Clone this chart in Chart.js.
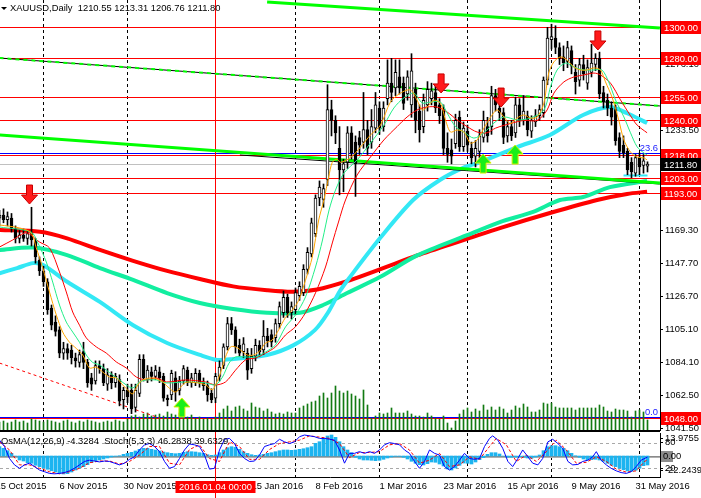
<!DOCTYPE html>
<html>
<head>
<meta charset="utf-8">
<title>XAUUSD,Daily</title>
<script src="https://cdn.jsdelivr.net/npm/chart.js@4.4.1/dist/chart.umd.min.js"></script>
<style>
    html, body { margin: 0; padding: 0; background: #fff; overflow: hidden; }
    #wrap { position: relative; width: 701px; height: 498px; }
    #mainChart { position: absolute; left: 0; top: 0; }
    #subChart { position: absolute; left: 0; top: 431px; }
</style>
</head>
<body>
<div id="wrap">
    <canvas id="mainChart" width="701" height="431"></canvas>
    <canvas id="subChart" width="701" height="67"></canvas>
</div>
<script>
// ---- daily candles, bar 0 = 19 Oct 2015 ... bar 162 = 2 Jun 2016 ----
const opens = [1177,1179,1176,1177,1170,1164,1166,1164,1167,1162,1150,1143,1136,1119,1110,1105,1090,1093,1092,1087,
    1084,1091,1084,1074,1072,1082,1080,1070,1076,1071,1073,1060,1066,1066,1055,1064,1086,1073,1078,1075,
    1078,1075,1061,1063,1074,1066,1072,1079,1071,1071,1077,1071,1069,1064,1061,1075,1082,1094,1109,1105,
    1095,1091,1090,1080,1088,1095,1092,1101,1102,1100,1109,1116,1126,1116,1118,1127,1129,1144,1154,1167,
    1190,1189,1202,1247,1240,1222,1208,1213,1232,1226,1229,1226,1234,1226,1235,1248,1236,1254,1264,1261,
    1268,1264,1257,1250,1260,1246,1236,1250,1254,1258,1250,1247,1222,1221,1225,1242,1223,1233,1222,1217,
    1220,1229,1236,1236,1256,1248,1245,1230,1236,1232,1250,1240,1243,1233,1239,1243,1245,1266,1292,1293,
    1287,1281,1278,1285,1271,1266,1276,1264,1271,1276,1280,1258,1253,1248,1247,1229,1224,1220,1213,1206,
    1216,1211,1210.55];
const highs = [1182,1183,1181,1180,1172,1169,1170,1169,1184,1164,1152,1146,1138,1121,1114,1107,1097,1096,1095,1090,
    1092,1097,1086,1077,1085,1085,1083,1080,1078,1077,1076,1068,1070,1070,1070,1089,1089,1082,1081,1082,
    1081,1077,1063,1079,1078,1075,1082,1081,1077,1080,1079,1074,1072,1067,1077,1085,1096,1113,1113,1107,
    1099,1100,1093,1093,1099,1098,1111,1106,1105,1112,1123,1130,1128,1123,1132,1136,1147,1158,1177,1192,
    1201,1199,1263,1253,1243,1236,1215,1236,1236,1230,1233,1258,1240,1247,1258,1252,1252,1279,1280,1279,
    1279,1268,1272,1283,1264,1250,1257,1265,1264,1263,1254,1250,1232,1228,1244,1246,1239,1237,1226,1227,
    1234,1246,1242,1262,1260,1251,1248,1240,1240,1255,1254,1256,1246,1243,1247,1250,1268,1300,1302,1301,
    1290,1288,1291,1288,1276,1280,1282,1279,1289,1283,1284,1262,1257,1252,1250,1232,1230,1222,1216,1218,
    1219,1218,1213.31];
const lows = [1172,1174,1172,1168,1161,1161,1162,1160,1159,1148,1140,1133,1115,1105,1101,1087,1086,1086,1083,1081,
    1081,1080,1068,1066,1070,1077,1069,1066,1067,1068,1056,1054,1058,1051,1052,1062,1072,1071,1072,1073,
    1071,1059,1056,1060,1059,1063,1070,1069,1068,1069,1068,1066,1059,1058,1058,1072,1080,1092,1102,1090,
    1088,1087,1073,1077,1085,1088,1089,1094,1094,1097,1106,1113,1113,1112,1115,1124,1127,1141,1152,1165,
    1185,1184,1198,1230,1225,1192,1194,1209,1215,1191,1218,1222,1218,1222,1232,1231,1233,1250,1252,1256,
    1257,1247,1253,1242,1232,1226,1232,1246,1250,1245,1238,1218,1213,1212,1222,1220,1220,1220,1212,1210,
    1216,1226,1226,1231,1246,1240,1225,1226,1227,1229,1236,1237,1230,1229,1236,1240,1242,1263,1286,1283,
    1276,1272,1274,1270,1257,1262,1266,1260,1268,1272,1254,1248,1243,1237,1224,1216,1216,1205,1203,1204,
    1205,1206,1206.76];
const closes = [1179,1176,1178,1170,1164,1166,1164,1167,1163,1152,1143,1136,1118,1108,1104,1090,1093,1090,1087,1085,
    1089,1084,1071,1070,1082,1080,1071,1076,1071,1075,1059,1066,1062,1054,1066,1086,1074,1079,1075,1079,
    1074,1061,1060,1077,1065,1072,1080,1071,1074,1077,1071,1069,1063,1060,1075,1081,1094,1109,1105,1094,
    1090,1096,1079,1088,1095,1091,1101,1098,1097,1109,1120,1126,1116,1120,1129,1133,1144,1155,1174,1190,
    1197,1196,1247,1240,1232,1208,1212,1232,1219,1212,1224,1234,1222,1236,1250,1235,1248,1264,1258,1271,
    1261,1251,1268,1272,1240,1234,1253,1260,1259,1248,1243,1222,1218,1217,1240,1223,1235,1224,1216,1222,
    1230,1240,1230,1256,1250,1245,1229,1236,1230,1250,1240,1246,1234,1240,1243,1247,1266,1293,1294,1287,
    1280,1277,1287,1275,1265,1276,1270,1274,1277,1280,1257,1252,1248,1242,1227,1220,1219,1208,1207,1216,
    1210,1214,1211.80];
// tick volume (hundreds) per bar
const volumes = [9,10,8,9,11,9,10,8,12,11,10,9,11,10,9,8,10,11,9,8,10,9,11,10,9,8,9,10,9,11,10,9,12,
    15,16,14,17,18,15,16,17,15,19,17,16,18,15,14,16,13,14,12,13,12,
    14,18,22,25,20,24,25,22,20,28,24,23,20,22,19,17,18,17,19,18,18,23,25,27,29,30,35,38,33,38,45,40,38,40,
    37,35,32,41,26,13,15,18,17,18,23,18,18,18,20,17,15,15,14,18,15,13,12,15,8,3,10,17,21,23,19,22,20,26,21,
    24,21,24,22,18,21,25,23,27,24,19,19,21,28,27,28,24,23,23,23,23,21,23,23,23,23,23,26,24,20,19,22,21,21,20,
    14,20,21,19,11];

// moving averages: [bar, price]
const ma200 = [[0,1169.4],[10.1,1168.2],[16.9,1164],[25.1,1156.5],[33.4,1149.5],[41.9,1143],[50.1,1137.8],[58.4,1133],
    [66.9,1130.5],[73.4,1129.5],[79.4,1131],[86.9,1136.4],[95.1,1144],[104.4,1153],[116.9,1163.6],[125.1,1170.6],
    [137.6,1180.3],[149.4,1188.7],[156.9,1192.6],[161.9,1194]];
const ma144 = [[0,1156.5],[8.4,1158],[16.9,1153.2],[25.1,1144.8],[33.4,1137.2],[41.9,1128.7],[50.1,1122.3],[58.4,1118.4],
    [66.9,1116],[75.1,1116],[80.9,1121],[86.9,1128.7],[95.1,1139],[104.4,1153],[116.9,1166],[125.1,1174.5],
    [133.4,1181],[140.1,1188.7],[145.9,1190.6],[152.6,1197],[161.9,1201]];
const ma50 = [[0,1141.5],[4.4,1144.8],[8.4,1148],[10.9,1146.8],[16.9,1136],[25.1,1123],[33.4,1108],[41.9,1096.5],
    [50.1,1088.8],[54.4,1085.6],[58.4,1086.2],[66.9,1088.8],[73.4,1095],[78.9,1105],[82.1,1116],[85.1,1130],
    [87.6,1139],[95.1,1164],[103.4,1188.7],[110.1,1201.6],[115.9,1209.4],[120.1,1213],[129.4,1222.8],[137.6,1230.6],
    [145.9,1243.5],[152.6,1248.6],[156.9,1244.6],[161.9,1238.3]];
const maFast = [[0,1172.6],[5,1170.7],[7.9,1167.5],[9.2,1157.8],[10.8,1145],[12.5,1129.4],[14.2,1114.6],[15.8,1103.6],
    [17.5,1097],[19.2,1093],[20.8,1088.8],[22.5,1080.4],[24.2,1081],[25.8,1077.8],[27.5,1074.6],[29.2,1074],
    [30.8,1069.5],[32.5,1065],[33.3,1063.7],[34.6,1069.5],[35.8,1072.7],[38.3,1074],[40.8,1071.4],[42.1,1068.2],
    [44,1065],[46.5,1071],[49,1071],[51.5,1069.5],[53.2,1066.3],[54,1069.5],[55.25,1077.3],[56.5,1087.5],
    [57.75,1094],[59,1094],[60.25,1092],[61.9,1088.8],[63.6,1088.8],[65.25,1092],[66.5,1096.5],[68.2,1098.5],
    [69.8,1105],[71.5,1113],[73.2,1117.8],[74.8,1124],[76.5,1137],[78.2,1152],[79.8,1175.8],[81.1,1188.7],
    [82.3,1203.5],[83.2,1213],[84.4,1215],[85.25,1213],[87.75,1216],[90.25,1222.8],[92.75,1230.6],[95.25,1237],
    [97.75,1251.9],[100.25,1257.6],[102.75,1259.6],[104.4,1253],[105.7,1246.7],[106.9,1248.6],[108.6,1253],
    [110.25,1251],[111.5,1240.3],[112.75,1232.5],[114.4,1233.8],[116.1,1232.5],[117.75,1225.4],[119.4,1227.4],
    [121.1,1235],[122.75,1242],[124.4,1246.7],[126.1,1242.2],[127.75,1238],[129.4,1241.5],[131.1,1243.5],
    [132.75,1241.5],[134.4,1242.2],[136.1,1251.2],[137.3,1270.5],[138.6,1277.7],[140.25,1280.9],[141.9,1278.9],
    [143.6,1274.4],[145.25,1272.5],[146.9,1272.5],[148.6,1273.8],[150.25,1272.5],[151.5,1264.8],[153.2,1254.5],
    [154.8,1240.3],[156.1,1227.4],[157.75,1219.6],[159.4,1216.4],[161.1,1215.8],[161.9,1214.5]];
const maMid = [[0,1171.3],[7.9,1168],[9.6,1161],[11.7,1148.7],[13.3,1135.8],[15,1121],[16.7,1110],[18.3,1103.6],
    [20,1097],[21.7,1088.8],[23.3,1084],[25,1082.4],[26.7,1079],[28.3,1075.9],[30,1072.7],[31.7,1069.5],
    [33.3,1067.5],[35,1071.4],[36.7,1072.7],[39.2,1072.7],[41.7,1070.8],[46.5,1071.4],[51.5,1070.8],[54,1069.5],
    [55.75,1074.6],[57.4,1083.6],[59,1087.5],[61.5,1087.5],[64,1087.5],[66.5,1090.7],[69,1095.3],[71.5,1106.9],
    [74,1114.6],[76.5,1126.2],[79,1145.5],[80.75,1162.9],[82.4,1182.3],[84,1195.1],[86.1,1206],[89.4,1214.5],
    [92.75,1225.4],[96.1,1237],[98.6,1248],[101.1,1254.5],[103.6,1257.6],[105.7,1251.2],[107.75,1251.8],
    [110.25,1251.8],[111.9,1244.8],[114,1236],[116.1,1232.5],[118.6,1228.6],[121.1,1232],[123.6,1238.3],
    [126.1,1242.2],[129.4,1240.3],[132.75,1241.5],[136.1,1246.7],[137.75,1261.5],[139.4,1272.5],[141.5,1277],
    [143.6,1274.4],[146.1,1272.5],[148.6,1272.5],[150.6,1272.5],[152.3,1264.8],[154,1253.2],[156.1,1242.2],
    [157.75,1232],[159.4,1223],[161.1,1219],[161.9,1217.7]];
const maSlow = [[0,1158.4],[3.3,1162.9],[6.7,1167.5],[10,1161.6],[12.5,1157.8],[15,1142.3],[16.7,1129.4],[18.3,1116.5],
    [20,1108],[21.7,1099.8],[24.2,1094],[26.7,1090],[29.2,1084.3],[31.7,1080.4],[34.2,1074.6],[36.7,1072.7],
    [39.2,1074],[41.7,1071.4],[46.5,1072.7],[51.5,1071.4],[54,1069.5],[56.5,1071.4],[59,1079],[61.5,1085.6],
    [64,1086.9],[66.5,1090],[69,1094],[71.5,1101.7],[74,1107],[76.5,1116],[79,1128.8],[81.5,1145.5],[83.2,1161],
    [84.75,1174.5],[86.5,1188.7],[89.4,1204.8],[92.75,1216.4],[96.1,1227.4],[99.4,1236],[101.9,1242.2],
    [104.4,1246.7],[106.9,1248.6],[109.4,1248.6],[111.9,1245.4],[114.4,1240.3],[116.9,1236],[119.4,1232.5],
    [121.9,1232],[124,1235],[127.75,1238],[131.1,1240],[134.4,1240],[136.9,1246.7],[138.6,1257.6],[141.1,1264.8],
    [143.6,1268],[146.1,1269.3],[148.6,1270.5],[150.25,1269.3],[152.75,1264],[155.25,1253.2],[157.75,1243],
    [159.4,1237],[161.9,1232]];

// drawn objects: trend lines [bar, price]
const trendTop = [[66.9,1316.3],[165.1,1299.5]];
const trendMid = [[0,1280.2],[165.1,1249.3]];
const trendLow = [[0,1230.6],[165.1,1199.6]];
const trendLowBlack = [[60.1,1217.7],[165.1,1199.0]];
const trendRedDot = [[0,1083.6],[40,1048.2]];
const cyanShort = [[156,1204.5],[162,1204.5]];

const levelPrices = [1300, 1280, 1255, 1240, 1218, 1203, 1193, 1048];
const fibPrices = [1218, 1048];
const fibLabels = ['23.6', '0.0'];
const bidPrice = 1211.80;
const priceTicks = [1297.10, 1276.10, 1254.80, 1233.50, 1190.70, 1169.30, 1147.70, 1126.70, 1105.10, 1084.10, 1062.50, 1041.50];

const arrowBars = [7.5, 110.4, 125.4, 149.6, 45.6, 120.9, 128.9];
const arrowPrices = [1186.1, 1257.7, 1248.6, 1285.4, 1061.1, 1218.3, 1224.1];
const arrowDirs = ['down', 'down', 'down', 'down', 'up', 'up', 'up'];

const gridBars = [11, 32, 74, 95, 117, 138, 160];
const markerBar = 54;   // 2016.01.04

// ---- lower window: OsMA(12,26,9) histogram and Stoch(5,3,3) ----
const osmaHist = [9.3,7.7,5.3,2.7,0,-4,-5,-6.7,-7.3,-9.3,-10.7,-12,-13.3,-14.7,-16,-17.3,-18,-17.7,-16,-14,
    -12,-10.7,-8.7,-6.7,-5,-4,-3,-2,-1,-0.3,0.3,1.7,2.7,3.7,5,6.7,7.7,7.7,6.7,6,
    5,4,3.3,2.7,2.3,2.7,3.7,4.3,4.3,4,3.3,2.7,1.3,0.7,1,3.3,6,8.3,9.3,8.7,
    6.7,4.3,2.7,1.3,0.7,1,1.7,2.7,3.3,4.3,5.3,6,6,5.7,6,6.7,7.3,8.3,9.3,12.7,
    14.3,17.7,20,21,18.7,14.3,9.3,6,
    3.3,-1.3,-3,-4,-4,-4.3,-4.7,-4.3,-3.3,-2,-1,-0.3,-0.3,-1.3,-3,-5.3,-7.3,-8.7,-9,-7.7,
    -6,-6.3,-8,-10,-13,-14,-12,-9.3,-7,-7.3,-8,-6,-3.7,-1.7,1.7,3.3,3.3,2,0,-1.3,
    -1.3,-1,-0.7,-1.3,-2,-2.3,-1,1,5.3,9.3,10.3,10.3,9.3,7.7,5.3,2.7,0.3,-1.3,-3,-4,
    -3.7,-3.3,-4,-5.3,-7.3,-9.3,-10.7,-12.3,-13.7,-15,-15.3,-14.3,-12.3,-9.7,-9];
const stochMain = [[0,86],[1.25,71],[2.5,43],[3.75,28],[5,20],[6.25,28],[7.5,32],[8.75,24],[10,16],[11.25,12],
    [12.5,8],[13.75,7],[15,8],[16.25,10],[17.5,14],[18.75,20],[20,28],[21.25,36],[22.5,39],[23.75,37],[25,35],
    [26.25,37],[27.5,36],[28.75,32],[30,28],[31.25,32],[32.5,41],[33.75,47],[35,63],[36.25,75],[37.5,78],
    [38.75,71],[40,59],[41.25,36],[42.5,20],[43.75,24],[45,43],[46.25,63],[47.5,77],[48.75,75],[50,71],
    [51.25,51],[52.5,18],[53.75,20],[55,63],[56.25,88],[57.5,90],[58.75,78],[60,55],[61.25,43],[62.5,36],
    [63.75,37],[65,51],[66.25,71],[67.5,75],[68.75,78],[70,88],[71.25,82],[72.5,78],[73.75,82],[75,94],
    [76.25,98],[77.5,96],[78.75,94],[80,90],[81.25,90],[82.5,88],[83.75,86],[85,63],[86.25,32],[87.5,55],
    [88.75,55],[90,59],[91.25,55],[92.5,59],[93.75,55],[95,63],[96.25,75],[97.5,80],[98.75,78],[100,75],
    [101.25,63],[102.5,55],[103.75,36],[105,20],[106.25,36],[107.5,63],[108.75,55],[110,51],[111.25,24],
    [112.5,16],[113.75,24],[115,39],[116.25,55],[117.5,43],[118.75,41],[120,43],[121.25,71],[122.5,90],
    [123.3,96],[124.6,86],[125.8,67],[127.1,36],[128.3,24],[129.6,43],[130.8,63],[132.1,47],[133.3,32],
    [134.6,28],[135.8,43],[137.1,82],[138.3,88],[139.6,78],[140.8,67],[142.1,36],[143.3,28],[144.6,29],
    [145.8,36],[147.1,39],[148.3,47],[149.2,59],[150.4,39],[151.7,28],[152.9,20],[154.2,14],[155.4,10],
    [156.7,8],[157.9,12],[159.2,24],[160.4,39],[162,46.3]];
const stochSignal = [[0,82],[2.5,63],[5,28],[7.5,28],[10,20],[12.5,12],[15,7],[17.5,12],[20,20],[22.5,33],
    [25,37],[27.5,37],[30,30],[32.5,36],[35,51],[37.5,71],[40,71],[42.5,32],[45,28],[47.5,64],[50,75],
    [52.5,43],[55,36],[57.5,82],[60,71],[62.5,41],[65,41],[67.5,64],[70,78],[72.5,82],[75,86],[77.5,96],
    [80,93],[82.5,90],[85,78],[87.5,45],[90,57],[92.5,57],[95,59],[97.5,75],[100,78],[102.5,63],[105,32],
    [107.5,39],[110,55],[112.5,24],[115,28],[117.5,47],[120,41],[122.5,71],[124.2,90],[126.7,75],[129.2,36],
    [131.7,51],[134.2,36],[136.7,59],[139.2,86],[141.7,63],[144.2,32],[146.7,34],[149.2,47],[151.7,36],
    [154.2,18],[156.7,11],[159.2,14],[161.25,36],[162,39.6]];
const subAxisValues = [90.2, 80, 20, 16];
const subAxisLabels = ['13.9755', '80', '20', '-22.2439'];

const dateBars = [-1, 15, 31, 63, 79, 95, 111, 127, 143, 159];
const dateLabels = ['15 Oct 2015', '6 Nov 2015', '30 Nov 2015', '15 Jan 2016', '8 Feb 2016',
    '1 Mar 2016', '23 Mar 2016', '15 Apr 2016', '9 May 2016', '31 May 2016'];

// ---- shared settings ----
const X_MIN = 0.125, X_MAX = 165.125;
const FONT = "'Liberation Sans', Arial, sans-serif";
const FONT_SIZE = 9.4;
Chart.defaults.font.family = FONT;
Chart.defaults.font.size = FONT_SIZE;
Chart.defaults.color = '#000';

function toPts(arr) {
    return arr.map(function (p) { return {x: p[0], y: p[1]}; });
}

function lineSet(data, color, width, order, extra) {
    return Object.assign({
        type: 'line', data: toPts(data), borderColor: color, borderWidth: width,
        pointRadius: 0, fill: false, tension: 0.3, order: order, yAxisID: 'y'
    }, extra || {});
}

function hline(ctx, y, x0, x1, color, dash) {
    ctx.save();
    ctx.strokeStyle = color;
    ctx.lineWidth = 1;
    ctx.setLineDash(dash || []);
    ctx.beginPath();
    ctx.moveTo(x0, Math.round(y) + 0.5);
    ctx.lineTo(x1, Math.round(y) + 0.5);
    ctx.stroke();
    ctx.restore();
}

function vline(ctx, x, y0, y1, color, dash) {
    ctx.save();
    ctx.strokeStyle = color;
    ctx.lineWidth = 1;
    ctx.setLineDash(dash || []);
    ctx.beginPath();
    ctx.moveTo(Math.floor(x) + 0.5, y0);
    ctx.lineTo(Math.floor(x) + 0.5, y1);
    ctx.stroke();
    ctx.restore();
}

function drawArrow(ctx, cx, tipY, dir) {
    const h = 19, headH = 9, headW = 8, shaftW = 3;
    const s = dir === 'down' ? 1 : -1;
    const base = tipY - s * h;
    const neck = tipY - s * headH;
    ctx.save();
    ctx.fillStyle = dir === 'down' ? '#ff1a1a' : '#19ee19';
    ctx.strokeStyle = dir === 'down' ? '#c80000' : '#d8f000';
    ctx.lineWidth = 1;
    ctx.beginPath();
    ctx.moveTo(cx - shaftW, base);
    ctx.lineTo(cx + shaftW, base);
    ctx.lineTo(cx + shaftW, neck);
    ctx.lineTo(cx + headW, neck);
    ctx.lineTo(cx, tipY);
    ctx.lineTo(cx - headW, neck);
    ctx.lineTo(cx - shaftW, neck);
    ctx.closePath();
    ctx.fill();
    ctx.stroke();
    ctx.restore();
}

function axisBox(ctx, y, text, bg, fg) {
    const top = Math.round(y) - 6;
    ctx.fillStyle = bg;
    ctx.fillRect(661, top, 40, 13);
    ctx.fillStyle = fg;
    ctx.font = FONT_SIZE + 'px ' + FONT;
    ctx.textAlign = 'left';
    ctx.textBaseline = 'middle';
    ctx.fillText(text, 664, top + 7);
}

// ---- main window ----
const mainOverlay = {
    id: 'mainOverlay',
    beforeDatasetsDraw(chart) {
        const {ctx, chartArea: a, scales: {x, y}} = chart;
        gridBars.forEach(function (b) {
            vline(ctx, x.getPixelForValue(b), a.top, a.bottom, '#000', [3, 3]);
        });
        hline(ctx, y.getPixelForValue(bidPrice), a.left, a.right, '#c0c0c0');
        levelPrices.forEach(function (p) {
            hline(ctx, y.getPixelForValue(p), a.left, a.right, '#ff0000');
        });
        fibPrices.forEach(function (p) {
            hline(ctx, y.getPixelForValue(p) - 1.5, a.left, a.right, '#0000ff');
        });
        vline(ctx, x.getPixelForValue(markerBar), a.top, a.bottom, '#ff0000');
    },
    afterDatasetsDraw(chart) {
        const {ctx, chartArea: a, scales: {x, y}} = chart;
        arrowBars.forEach(function (b, i) {
            drawArrow(ctx, x.getPixelForValue(b), y.getPixelForValue(arrowPrices[i]), arrowDirs[i]);
        });
        ctx.save();
        ctx.font = FONT_SIZE + 'px ' + FONT;
        ctx.fillStyle = '#2020ff';
        ctx.textAlign = 'right';
        ctx.textBaseline = 'bottom';
        fibPrices.forEach(function (p, i) {
            ctx.fillText(fibLabels[i], a.right - 2, y.getPixelForValue(p) - 1);
        });
        ctx.restore();
    },
    afterDraw(chart) {
        const {ctx, chartArea: a, scales: {y}} = chart;
        ctx.save();
        // title
        ctx.fillStyle = '#000';
        ctx.beginPath();
        ctx.moveTo(1, 7); ctx.lineTo(7, 7); ctx.lineTo(4, 10); ctx.closePath();
        ctx.fill();
        ctx.font = FONT_SIZE + 'px ' + FONT;
        ctx.textAlign = 'left';
        ctx.textBaseline = 'middle';
        ctx.fillText('XAUUSD,Daily  1210.55 1213.31 1206.76 1211.80', 10, 8.5);
        // window border
        hline(ctx, a.bottom - 1, 0, a.right, '#000');
        // price labels on the axis
        levelPrices.forEach(function (p) {
            axisBox(ctx, y.getPixelForValue(p), p.toFixed(2), '#ff0000', '#fff');
        });
        axisBox(ctx, y.getPixelForValue(bidPrice), bidPrice.toFixed(2), '#000', '#fff');
        ctx.restore();
    }
};

const barIdx = closes.map(function (c, i) { return i; });

new Chart(document.getElementById('mainChart'), {
    type: 'bar',
    data: {
        datasets: [
            lineSet(maFast, '#ffa500', 1, 1),
            lineSet(maMid, '#22ee88', 1, 1),
            lineSet(maSlow, '#ff0000', 1, 1),
            {
                type: 'bar', yAxisID: 'y', order: 2, grouped: false,
                data: barIdx.map(function (i) { return {x: i, y: [opens[i], closes[i]]}; }),
                backgroundColor: barIdx.map(function (i) { return closes[i] >= opens[i] ? '#fff' : '#000'; }),
                borderColor: '#000', borderWidth: 1, borderSkipped: false,
                barThickness: 3, minBarLength: 1
            },
            {
                type: 'bar', yAxisID: 'y', order: 3, grouped: false,
                data: barIdx.map(function (i) { return {x: i, y: [lows[i], highs[i]]}; }),
                backgroundColor: '#000', borderWidth: 0, barThickness: 1
            },
            lineSet(trendTop, '#00ff00', 3, 4, {tension: 0}),
            lineSet(trendMid, '#00ff00', 2, 4, {tension: 0, borderDash: [4, 4]}),
            lineSet(trendMid, '#000', 1, 5, {tension: 0}),
            lineSet(trendLow, '#00ff00', 3, 4, {tension: 0}),
            lineSet(trendLowBlack, '#000', 1, 5, {tension: 0}),
            lineSet(trendRedDot, '#ff0000', 1, 4, {tension: 0, borderDash: [3, 3]}),
            lineSet(cyanShort, '#33e8f5', 2, 4, {tension: 0}),
            lineSet(ma50, '#33e8f5', 4, 6),
            lineSet(ma144, '#12eea0', 4, 6),
            lineSet(ma200, '#ff0000', 4, 6),
            {
                type: 'bar', yAxisID: 'yv', order: 7, grouped: false,
                data: barIdx.map(function (i) { return {x: i, y: volumes[i]}; }),
                backgroundColor: '#127a12', borderWidth: 0, barThickness: 1
            }
        ]
    },
    options: {
        responsive: false,
        animation: false,
        events: [],
        layout: {padding: 0},
        plugins: {legend: {display: false}, tooltip: {enabled: false}},
        scales: {
            x: {type: 'linear', min: X_MIN, max: X_MAX, offset: false, display: false},
            y: {
                position: 'right', min: 1039.8, max: 1317.6, beginAtZero: false,
                grid: {drawOnChartArea: false, drawTicks: true, tickLength: 3, color: '#000'},
                border: {display: true, color: '#000'},
                ticks: {padding: 2, color: '#000', callback: function (v) { return v.toFixed(2); }},
                afterBuildTicks: function (s) { s.ticks = priceTicks.map(function (v) { return {value: v}; }); },
                afterFit: function (s) { s.width = 41; s.paddingTop = 0; s.paddingBottom = 0; }
            },
            yv: {display: false, min: 0, max: 431, beginAtZero: true}
        }
    },
    plugins: [mainOverlay]
});

// ---- indicator window ----
const subOverlay = {
    id: 'subOverlay',
    beforeDatasetsDraw(chart) {
        const {ctx, chartArea: a, scales: {x, ys, yo}} = chart;
        gridBars.forEach(function (b) {
            vline(ctx, x.getPixelForValue(b), a.top, a.bottom, '#000', [3, 3]);
        });
        hline(ctx, ys.getPixelForValue(80), a.left, a.right, '#a8a8a8', [3, 3]);
        hline(ctx, ys.getPixelForValue(20), a.left, a.right, '#a8a8a8', [3, 3]);
        hline(ctx, yo.getPixelForValue(0), a.left, a.right, '#8a8a8a');
        hline(ctx, yo.getPixelForValue(0) + 1, a.left, a.right, '#b0b0b0');
        vline(ctx, x.getPixelForValue(markerBar), 0, chart.height, '#ff0000');
    },
    afterDraw(chart) {
        const {ctx, chartArea: a, scales: {x, yo}} = chart;
        ctx.save();
        hline(ctx, 0, 0, a.right, '#000');
        ctx.font = FONT_SIZE + 'px ' + FONT;
        ctx.textBaseline = 'middle';
        ctx.textAlign = 'left';
        ctx.fillStyle = '#000';
        ctx.fillText('OsMA(12,26,9) -4.3284  Stoch(5,3,3) 46.2838 39.6329', 1, 10);
        // zero value box on the axis
        const zy = Math.round(yo.getPixelForValue(0));
        ctx.fillStyle = '#8c8c8c';
        ctx.fillRect(661, zy - 5, 12, 11);
        ctx.fillStyle = '#000';
        ctx.fillText('0.00', 663, zy + 0.5);
        // crosshair time label
        const mx = x.getPixelForValue(markerBar);
        ctx.fillStyle = '#ff0000';
        ctx.fillRect(mx - 40, 50, 80, 12);
        ctx.fillStyle = '#fff';
        ctx.textAlign = 'center';
        ctx.fillText('2016.01.04 00:00', mx, 56.5);
        ctx.restore();
    }
};

new Chart(document.getElementById('subChart'), {
    type: 'bar',
    data: {
        datasets: [
            {
                type: 'line', yAxisID: 'ys', order: 1, data: toPts(stochMain),
                borderColor: '#0000ff', borderWidth: 1, pointRadius: 0, fill: false, tension: 0
            },
            {
                type: 'line', yAxisID: 'ys', order: 2, data: toPts(stochSignal),
                borderColor: '#ff0000', borderWidth: 1, borderDash: [3, 2], pointRadius: 0, fill: false, tension: 0
            },
            {
                type: 'bar', yAxisID: 'yo', order: 3, grouped: false,
                data: osmaHist.map(function (v, i) { return {x: i, y: v}; }),
                backgroundColor: '#1cb4f0', borderWidth: 0, barThickness: 3
            }
        ]
    },
    options: {
        responsive: false,
        animation: false,
        events: [],
        layout: {padding: {top: 2}},
        plugins: {legend: {display: false}, tooltip: {enabled: false}},
        scales: {
            x: {
                type: 'linear', min: X_MIN, max: X_MAX, offset: false, position: 'bottom',
                grid: {display: false, drawTicks: false},
                border: {display: true, color: '#000'},
                ticks: {
                    autoSkip: false, maxRotation: 0, align: 'start', padding: 4, color: '#000',
                    callback: function (v, i) { return dateLabels[i]; }
                },
                afterBuildTicks: function (s) { s.ticks = dateBars.map(function (v) { return {value: v}; }); },
                afterFit: function (s) { s.height = 21; s.paddingLeft = 0; s.paddingRight = 0; }
            },
            ys: {
                position: 'right', min: -0.4, max: 102.7, beginAtZero: false,
                grid: {drawOnChartArea: false, drawTicks: true, tickLength: 3, color: '#000'},
                border: {display: true, color: '#000'},
                ticks: {padding: 2, color: '#000', callback: function (v, i) { return subAxisLabels[i]; }},
                afterBuildTicks: function (s) { s.ticks = subAxisValues.map(function (v) { return {value: v}; }); },
                afterFit: function (s) { s.width = 41; s.paddingTop = 0; s.paddingBottom = 0; }
            },
            yo: {display: false, min: -21, max: 23, beginAtZero: false}
        }
    },
    plugins: [subOverlay]
});
</script>
</body>
</html>
